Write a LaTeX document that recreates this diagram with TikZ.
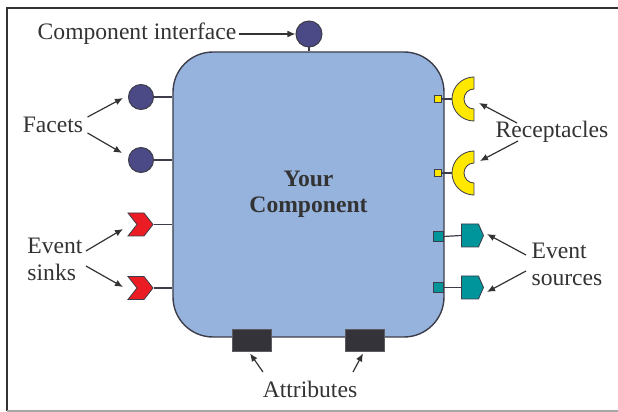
\documentclass[tikz,border=0pt]{standalone}
\usepackage{fontspec}
\setmainfont{Liberation Serif}
\usepackage{tikz}
\usetikzlibrary{arrows.meta,shapes.symbols,positioning}
\definecolor{compBlue}{HTML}{95B3DC}
\definecolor{compEdge}{HTML}{3C3C4A}
\definecolor{facetNavy}{HTML}{4C4A86}
\definecolor{sinkRed}{HTML}{EC1C24}
\definecolor{recYellow}{HTML}{FFE800}
\definecolor{srcTeal}{HTML}{00959B}
\definecolor{attrDark}{HTML}{333339}
\definecolor{txtGray}{HTML}{333333}

\begin{document}
\begin{tikzpicture}[
  x=0.5pt, y=-0.5pt,
  lbl/.style={font=\fontsize{11.8}{13.5}\selectfont, text=txtGray, inner sep=1pt, align=left},
  comp/.style={
    draw=compEdge, fill=compBlue, line width=0.7pt,
    rounded corners=20pt, minimum width=135.5pt, minimum height=142.5pt,
    font=\fontsize{11.8}{13}\bfseries\selectfont, text=txtGray, align=center,
  },
  facet/.style={circle, draw=compEdge, fill=facetNavy, line width=0.5pt,
    minimum size=12.5pt, inner sep=0pt},
  sink/.style={signal, signal from=west, signal to=east, signal pointer angle=104,
    draw=compEdge, fill=sinkRed, line width=0.4pt,
    minimum width=12.5pt, minimum height=11.5pt, inner sep=0pt},
  source/.style={signal, signal to=east, signal pointer angle=133,
    draw=compEdge, fill=srcTeal, line width=0.4pt,
    minimum width=11pt, minimum height=11.5pt, inner sep=0pt},
  port/.style={rectangle, draw=compEdge, fill=#1, line width=0.4pt, inner sep=0pt},
  recept/.style={draw=compEdge, fill=recYellow, line width=0.4pt},
  attr/.style={rectangle, fill=attrDark, draw=attrDark!80, line width=0.4pt,
    minimum width=19.5pt, minimum height=11pt, inner sep=0pt},
  wire/.style={draw=compEdge, line width=0.6pt},
  arr/.style={-{Latex[length=4pt,width=3.4pt]}, line width=0.6pt, txtGray},
]
\useasboundingbox (0,0) rectangle (618,412);

% frame
\draw[line width=1.1pt, txtGray] (7,411) -- (7,8) -- (618,8);
\draw[line width=0.8pt, gray!70] (7,411) -- (618,411);

% the component
\node[comp] (comp) at (308.5,194.5) {Your\\Component};

% component interface (top)
\node[facet, minimum size=13pt] (iface) at (309,34) {};
\draw[wire] (iface.south) -- (iface |- comp.north);
\node[lbl] (ifaceLbl) at (137,34) {Component interface};
\draw[arr] (ifaceLbl.east) -- (iface.west);

% facets
\node[facet] (facetA) at (141,97) {};
\node[facet] (facetB) at (141,160) {};
\draw[wire] (facetA.east) -- (facetA -| comp.west);
\draw[wire] (facetB.east) -- (facetB -| comp.west);
\node[lbl] (facetLbl) at (53,125) {Facets};
\draw[arr] ([shift={(2,-8)}]facetLbl.east) -- ([shift={(-5,1)}]facetA.west);
\draw[arr] ([shift={(2,8)}]facetLbl.east) -- ([shift={(-6,-7)}]facetB.west);

% event sinks
\node[sink] (sinkA) at (140.5,224.5) {};
\node[sink] (sinkB) at (140.5,288) {};
\draw[wire] (sinkA.east) -- (sinkA -| comp.west);
\draw[wire] (sinkB.east) -- (sinkB -| comp.west);
\node[lbl] (sinkLbl) at (55,259) {Event\\sinks};
\draw[arr] ([shift={(1,-8)}]sinkLbl.east) -- ([shift={(-17.5,4.5)}]sinkA.center);
\draw[arr] ([shift={(1,7)}]sinkLbl.east) -- ([shift={(-17.5,-1)}]sinkB.center);

% receptacles
\node[port=recYellow, minimum size=3.5pt] (recPortA) at (438,99) {};
\node[port=recYellow, minimum size=3.5pt] (recPortB) at (438,173) {};
\coordinate (recA) at (474,99);
\coordinate (recB) at (474,173);
\draw[wire] (recPortA.east) -- ([shift={(-22,0)}]recA);
\draw[wire] (recPortB.east) -- ([shift={(-22,0)}]recB);
\path[recept] (474,77) arc[start angle=270, end angle=90, radius=22]
  -- (474,109) arc[start angle=90, end angle=270, radius=10] -- cycle;
\path[recept] (474,151) arc[start angle=270, end angle=90, radius=22]
  -- (474,183) arc[start angle=90, end angle=270, radius=10] -- cycle;
\node[lbl] (recLbl) at (552,132) {Receptacles};
\draw[arr] ([shift={(-35,-9)}]recLbl.center) -- ([shift={(5,4)}]recA);
\draw[arr] ([shift={(-34,9)}]recLbl.center) -- ([shift={(6,-12)}]recB);

% event sources
\node[port=srcTeal, minimum size=5pt] (srcPortA) at (438,236.5) {};
\node[port=srcTeal, minimum size=5pt] (srcPortB) at (438,287.5) {};
\node[source] (srcA) at (470,235.5) {};
\node[source] (srcB) at (470,287.5) {};
\draw[wire] (srcPortA.east) -- (srcA.west);
\draw[wire] (srcPortB.east) -- (srcB.west);
\node[lbl] (srcLbl) at (567,264) {Event\\sources};
\draw[arr] ([shift={(-41,-9)}]srcLbl.center) -- ([shift={(17,-1.5)}]srcA.center);
\draw[arr] ([shift={(-41,7)}]srcLbl.center) -- ([shift={(17,4.5)}]srcB.center);

% attributes
\node[attr] (attrA) at (251.5,340) {};
\node[attr] (attrB) at (365,340) {};
\node[lbl] (attrLbl) at (310,389) {Attributes};
\draw[arr] ([shift={(-47,-17)}]attrLbl.center) -- ([shift={(-1.5,2)}]attrA.south);
\draw[arr] ([shift={(43,-17)}]attrLbl.center) -- ([shift={(-2,2)}]attrB.south);

\end{tikzpicture}
\end{document}
